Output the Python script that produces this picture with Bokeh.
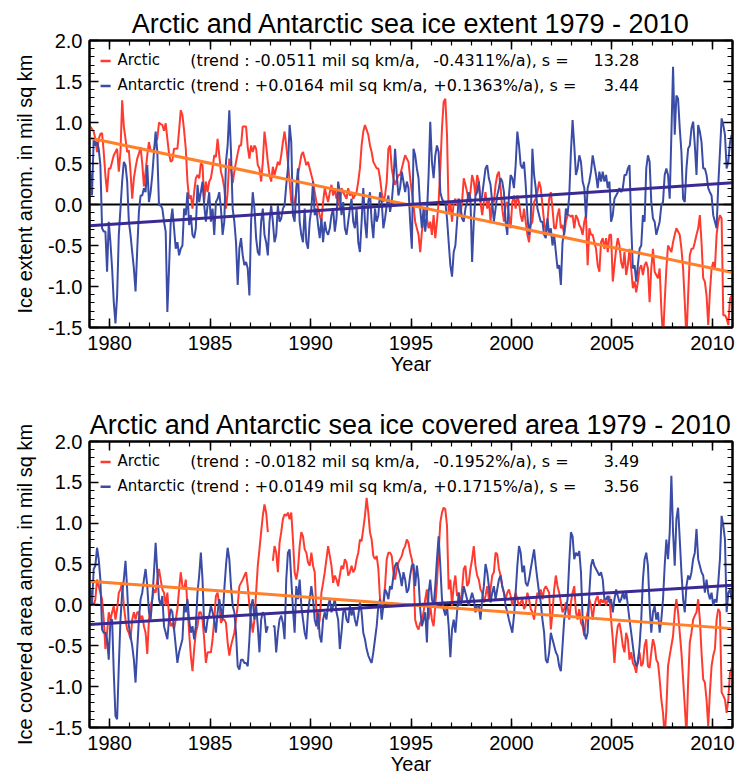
from bokeh.plotting import figure
from bokeh.layouts import column
from bokeh.models import (Range1d, FixedTicker, LinearAxis, PrintfTickFormatter, Span,
                          CustomJSTickFormatter)
from bokeh.core.properties import value
from bokeh.embed import file_html
from bokeh.resources import INLINE

nan = float("nan")
START_YEAR = 1979

# ---------------- data (monthly anomalies, million sq km, Jan 1979 - Dec 2010) -------------
ext_arctic = [
    0.95, 0.92, 0.89, 0.80, 0.64, 0.80, 0.86, 0.87, 0.64, 0.35,
    0.15, 0.44, 0.44, 0.52, 0.60, 0.64, 0.68, 0.40, 0.64, 1.27,
    0.95, 0.80, 0.64, 0.66, 0.40, 0.07, 0.32, 0.45, 0.56, 0.62,
    0.70, 0.50, 0.22, 0.40, 0.60, 0.76, 0.66, 0.66, 0.66, 0.76,
    0.80, 1.00, 0.98, 0.97, 0.90, 0.99, 0.80, 0.62, 0.52, 0.54,
    0.68, 0.68, 0.68, 0.90, 1.15, 1.09, 0.90, 0.68, 0.28, 0.07,
    0.11, -0.05, 0.15, 0.32, 0.36, 0.32, 0.50, 0.48, 0.03, 0.28,
    0.15, 0.28, 0.32, 0.45, 0.60, 0.58, 0.80, 0.60, 0.40, 0.32,
    0.20, -0.05, 0.15, 0.56, 0.44, 0.26, 0.40, 0.52, 0.62, 0.72,
    0.72, 0.95, 0.95, 0.95, 0.70, 0.56,
    0.72, 0.64, 0.72, 0.68, 0.48, 0.44, 0.28, 0.52, 0.89, 0.72,
    0.52, 0.36, 0.28, 0.46, 0.36, 0.44, 0.52, 0.48, 0.60, 0.76,
    0.89, 0.72, 0.52, 0.28, 0.03, -0.01, 0.03, 0.15, 0.36, 0.48,
    0.60, 0.64, 0.56, 0.48, 0.52, 0.44, 0.36, 0.28, 0.15, 0.03,
    -0.05, -0.13, -0.21, 0.03, 0.20, 0.11, 0.03, 0.15, 0.24, 0.11,
    0.20, 0.07, 0.15, -0.05, 0.20, 0.15, 0.11, 0.07, 0.20, 0.11,
    0.15, 0.07, 0.11, 0.15, 0.28, 0.44, 0.72, 0.89, 0.97, 0.91,
    0.85, 0.72, 0.64, 0.52, 0.48, 0.44, 0.44, 0.32, 0.15, 0.03,
    0.11, 0.28, 0.68, 0.72, 0.44, 0.32, 0.24, 0.30, 0.36, 0.36,
    0.44, 0.52, 0.60, 0.56, 0.52, 0.32, 0.15, -0.01,
    -0.21, -0.29, -0.37, -0.58, -0.33, -0.21, -0.05, -0.17, -0.29, -0.21,
    -0.37, -0.13, -0.41, -0.21, 0.03, 0.44, 0.93, 1.25, 1.29, 0.85,
    -0.09, 0.03, -0.21, 0.03, 0.07, -0.01, 0.07, -0.13, 0.03, 0.32,
    0.24, 0.15, 0.03, 0.15, 0.36, 0.28, 0.11, 0.36, 0.28, 0.03,
    -0.13, 0.03, 0.15, -0.05, 0.07, -0.21, 0.03, 0.03, 0.24, 0.36,
    0.40, 0.20, -0.05, -0.21, -0.01, 0.03, -0.13, -0.29, 0.03, 0.11,
    -0.05, 0.11, 0.03, -0.13, -0.21, -0.05, -0.21, -0.37, -0.46, -0.25,
    -0.21, 0.03, 0.07, 0.15, 0.28, 0.20, -0.01, -0.21, -0.33, -0.21,
    0.07, 0.15, -0.05, -0.29, -0.29, -0.13, -0.05, -0.29, -0.25, -0.37,
    -0.21, -0.13,
    -0.13, -0.15, -0.13, -0.29, -0.13, -0.17, -0.25, -0.29, -0.37, -0.21,
    -0.13, -0.74, -0.29, -0.37, -0.37, -0.46, -0.54, -0.74, -0.82, -0.46,
    -0.41, -0.54, -0.41, -0.58, -0.37, -0.37, -0.94, -0.74, -0.54, -0.41,
    -0.50, -0.70, -0.78, -0.58, -0.86, -0.74, -0.54, -0.78, -1.02, -0.94,
    -1.07, -0.94, -0.78, -0.74, -0.86, -0.74, -0.70, -0.78, -1.19, -0.78,
    -0.54, -0.82, -0.86, -0.90, -0.78, -1.27, -1.65, -1.19, -0.78, -0.50,
    -0.54, -0.58, -0.46, -0.37, -0.29, -0.33, -0.37, -0.54, -0.78, -1.19,
    -1.65, -1.11, -0.62, -0.54, -0.54, -0.46, -0.37, -0.29, -0.13, -0.46,
    -0.90, -0.94, -1.11, -1.47, -1.07, -0.78, -0.70, -0.78, -0.37, -0.21,
    -0.13, -0.17, -1.35, -1.35, -1.39, -1.47, -1.15, -1.11,
]

ext_antarctic = [
    0.40, 0.11, 0.80, 0.72, 0.76, 0.68, 0.48, -0.29, -0.33, -0.33,
    -0.82, -0.21, -0.46, -0.78, -1.19, -1.45, -1.11, -0.37, -0.05, 0.28,
    0.52, 0.48, 0.28, -0.21, -0.37, -0.58, -0.78, -1.06, -0.55, -0.09,
    0.11, 0.11, 0.20, 0.15, 0.48, 0.03, 0.15, 0.36, 0.64, 0.89,
    0.64, -0.01, -0.01, -0.05, -0.21, -0.33, -1.31, -0.78, -0.21, -0.05,
    -0.29, -0.54, -0.46, -0.62, -0.54, -0.50, -0.05, -0.13, 0.15, -0.25,
    -0.13, -0.37, -0.41, -0.29, 0.24, 0.03, 0.15, 0.28, -0.01, -0.21,
    -0.01, 0.15, -0.21, -0.05, -0.37, 0.03, 0.07, 0.15, -0.05, -0.37,
    -0.21, 0.52, 0.72, 1.15, 0.64, -0.05, -0.21, -0.46, -0.98, -0.54,
    -0.41, -0.62, -0.74, -0.70, -0.78, -1.11,
    -0.21, 0.15, -0.05, -0.41, -0.58, -0.62, -0.21, -0.05, -0.37, -0.46,
    -0.62, -0.21, -0.01, -0.21, -0.46, -0.37, -0.01, -0.21, -0.17, -0.05,
    -0.01, 0.24, 0.44, 0.97, 0.76, -0.13, -0.21, 0.20, 0.44, -0.21,
    -0.37, -0.46, -0.05, -0.46, -0.54, -0.21, -0.05, 0.28, -0.13, -0.05,
    -0.25, -0.41, -0.17, -0.46, -0.21, -0.33, -0.37, -0.29, -0.13, -0.05,
    -0.33, -0.17, 0.28, 0.15, -0.13, 0.03, -0.29, -0.37, -0.21, -0.05,
    0.07, -0.21, -0.29, -0.05, -0.46, -0.58, -0.21, 0.20, -0.21, -0.41,
    0.03, 0.15, -0.21, -0.41, -0.05, -0.21, -0.13, 0.15, 0.03, -0.29,
    -0.17, -0.01, 0.11, -0.09, 0.03, 0.28, 0.68, 0.36, 0.11, 0.20,
    0.40, 0.28, 0.15, 0.28, 0.20, -0.21, -0.54, 0.68,
    0.60, 0.44, 0.32, -0.05, -0.29, -0.05, -0.33, -0.13, 0.36, 1.01,
    0.52, 0.32, 0.60, 0.72, 0.64, 0.15, 0.07, 0.03, 0.03, -0.17,
    -0.46, -0.74, -0.88, -0.58, -0.50, -0.21, 0.07, -0.01, -0.17, -0.21,
    -0.05, 0.03, 0.15, 0.07, -0.70, -0.21, 0.11, 0.15, 0.28, 0.03,
    0.11, 0.28, 0.44, 0.48, 0.32, 0.24, 0.03, -0.21, -0.05, 0.11,
    0.20, 0.32, 0.28, 0.15, -0.21, -0.37, 0.11, 0.36, 0.32, 0.20,
    0.48, 0.89, 0.72, 0.48, 0.44, 0.52, 0.24, -0.13, -0.37, -0.21,
    0.68, 0.36, 0.20, -0.05, -0.13, -0.21, -0.21, -0.37, -0.41, -0.17,
    -0.37, -0.29, -0.50, -0.37, -0.58, -0.78, -0.74, -0.98, -0.46, -0.33,
    -0.05, -0.13,
    0.11, 0.64, 1.03, 0.72, 0.36, 0.44, 0.60, 0.52, 0.28, 0.20,
    -0.17, 0.20, 0.28, 0.40, 0.60, 0.48, 0.36, 0.20, 0.40, 0.28,
    0.40, 0.28, 0.36, 0.20, 0.28, -0.21, -0.13, 0.07, 0.11, 0.15,
    0.20, 0.15, 0.20, 0.36, 0.36, 0.44, 0.48, -0.25, -0.78, -0.74,
    -0.94, -0.74, -0.54, -0.50, -0.13, -0.21, 0.44, 0.60, 0.52, 0.03,
    -0.17, -0.21, -0.37, -0.29, -0.21, -0.01, 0.03, 0.36, 0.44, 0.36,
    0.07, 0.85, 1.68, 0.85, 1.33, 1.29, 0.93, 0.64, 0.07, 0.03,
    0.44, 0.68, 0.72, 0.93, 1.01, 0.72, 0.36, 0.97, 0.89, 0.76,
    0.44, 0.44, 0.36, 0.20, 0.15, 0.11, -0.13, -0.21, -0.29, 0.24,
    0.64, 1.05, 0.97, 0.85, 0.44, 0.52, 0.76, 0.85,
]

area_arctic = [
    0.19, 0.03, -0.01, 0.07, 0.31, 0.23, 0.15, 0.07, -0.18, -0.54,
    -0.34, -0.09, -0.18, -0.09, -0.01, -0.18, -0.05, 0.15, 0.19, 0.27,
    -0.01, -0.18, -0.30, -0.34, -0.42, -0.18, -0.09, -0.18, -0.09, -0.09,
    -0.18, -0.13, -0.26, -0.34, -0.60, -0.18, -0.01, 0.07, 0.19, 0.15,
    0.31, 0.44, 0.31, 0.19, 0.15, -0.01, 0.15, -0.13, -0.26, -0.22,
    -0.30, -0.18, -0.05, 0.19, 0.40, 0.23, 0.19, 0.31, -0.01, -0.34,
    -0.62, -0.81, -0.54, -0.34, -0.26, -0.09, -0.09, -0.18, -0.42, -0.71,
    -0.58, -0.58, -0.58, -0.42, -0.18, 0.11, 0.15, -0.01, -0.22, -0.18,
    -0.18, -0.22, -0.46, -0.62, -0.50, -0.42, -0.34, -0.18, -0.01, 0.23,
    0.27, 0.31, 0.36, 0.40, 0.23, -0.01,
    -0.18, -0.34, -0.18, 0.15, 0.48, 0.68, 0.89, 1.09, 1.23, 1.13,
    0.89, nan, nan, 0.54, 0.72, 0.64, 0.40, 0.76, 0.89, 1.05,
    1.11, 1.09, 1.13, 1.05, 1.13, 0.80, 0.40, 0.31, 0.44, 0.72,
    0.89, 0.84, 0.68, 0.64, 0.52, 0.48, 0.64, 0.48, 0.40, -0.09,
    -0.30, -0.18, 0.15, 0.27, 0.40, 0.56, 0.72, 0.60, 0.48, 0.27,
    0.36, 0.31, 0.23, 0.36, 0.48, 0.44, 0.56, 0.52, 0.36, 0.40,
    0.48, 0.40, 0.44, 0.56, 0.64, 0.80, 0.78, 0.93, 1.09, 1.31,
    1.13, 0.89, 0.80, 0.60, 0.56, 0.60, 0.44, 0.07, -0.01, 0.03,
    0.23, 0.56, 0.64, 0.64, 0.60, 0.40, 0.31, 0.44, 0.52, 0.56,
    0.60, 0.68, 0.72, 0.80, 0.76, 0.64, 0.56, 0.40,
    -0.18, -0.26, -0.30, -0.22, -0.18, -0.09, 0.07, 0.19, -0.18, -0.01,
    -0.18, -0.26, -0.01, 0.27, 0.64, 1.01, 1.13, 1.19, 1.17, 0.97,
    0.19, 0.31, -0.01, 0.23, 0.36, 0.11, 0.15, -0.01, 0.19, 0.44,
    0.48, 0.23, 0.27, 0.44, 0.56, 0.72, 0.48, 0.36, 0.31, 0.19,
    0.15, 0.03, 0.11, 0.23, 0.07, 0.19, 0.36, 0.40, 0.64, 0.62,
    0.44, 0.36, 0.23, 0.15, 0.07, 0.15, 0.19, 0.11, -0.01, 0.07,
    0.15, 0.07, -0.01, 0.03, 0.07, -0.05, -0.01, 0.15, 0.07, -0.05,
    -0.09, -0.18, -0.01, 0.15, 0.11, 0.19, 0.07, 0.19, 0.23, 0.19,
    0.15, -0.30, -0.09, 0.19, 0.36, 0.23, 0.15, 0.03, -0.09, -0.05,
    0.03, -0.01,
    -0.18, 0.03, 0.15, 0.23, -0.09, -0.18, -0.05, -0.22, -0.26, -0.38,
    -0.18, -0.09, 0.07, -0.01, -0.18, -0.01, 0.07, 0.11, -0.01, 0.07,
    0.03, 0.07, -0.01, 0.07, 0.11, -0.18, -0.42, -0.71, -0.42, -0.26,
    -0.22, -0.34, -0.50, -0.58, -0.34, -0.42, -0.67, -0.58, -0.71, -0.75,
    -0.83, -0.67, -0.58, -0.75, -0.71, -0.50, -0.42, -0.75, -0.77, -0.58,
    -0.42, -0.50, -0.67, -0.71, -0.91, -1.16, -1.32, -1.62, -1.28, -0.75,
    -0.62, -0.50, -0.38, -0.09, 0.07, -0.09, -0.34, -0.58, -0.91, -1.24,
    -1.60, -0.95, -0.46, -0.34, -0.18, -0.13, -0.09, 0.07, -0.18, -0.58,
    -0.91, -0.95, -1.16, -1.48, -1.07, -0.75, -0.62, -0.54, -0.18, -0.05,
    -0.09, -1.07, -1.11, -1.16, -1.32, -1.16, -0.83, -0.77,
]

area_antarctic = [
    0.20, -0.01, 0.44, 0.48, 0.70, 0.56, 0.31, -0.30, -0.34, -0.34,
    -0.42, -0.67, -0.18, -0.18, -0.83, -1.36, -1.40, -0.75, -0.18, 0.15,
    0.31, 0.54, 0.19, -0.26, -0.38, -0.50, -0.67, -0.95, -0.54, -0.18,
    0.07, 0.15, 0.31, 0.44, 0.23, -0.09, -0.18, 0.07, 0.40, 0.76,
    0.40, 0.07, -0.01, 0.11, -0.26, -0.34, -0.42, -0.18, -0.05, -0.09,
    -0.30, -0.50, -0.71, -0.58, -0.50, -0.42, -0.01, -0.09, 0.07, -0.18,
    -0.34, -0.26, -0.42, -0.26, 0.15, 0.36, 0.64, 0.31, -0.26, -0.34,
    -0.18, -0.13, -0.01, -0.09, -0.18, -0.34, -0.09, 0.07, -0.05, -0.18,
    0.19, 0.48, 0.70, 0.56, 0.23, -0.01, -0.09, -0.34, -0.75, -0.79,
    -0.67, -0.67, -0.71, -0.71, -0.75, -0.42,
    -0.01, 0.07, -0.18, -0.01, -0.26, -0.58, -0.18, -0.09, -0.13, -0.34,
    -0.26, nan, nan, -0.26, -0.26, -0.58, -0.34, -0.18, -0.13, -0.22,
    -0.42, 0.31, 0.64, 0.68, 0.31, -0.05, -0.34, 0.23, 0.07, 0.31,
    -0.01, -0.18, -0.34, -0.42, -0.09, 0.07, 0.23, 0.07, -0.18, -0.26,
    -0.09, -0.38, -0.46, -0.18, -0.09, -0.18, -0.01, 0.07, -0.09, -0.01,
    0.07, -0.09, -0.18, -0.54, -0.34, -0.09, -0.05, -0.18, -0.22, -0.01,
    -0.13, -0.05, -0.18, -0.26, -0.13, 0.03, -0.09, -0.34, -0.42, -0.54,
    -0.62, -0.67, -0.71, -0.58, -0.42, -0.26, -0.01, 0.07, -0.18, -0.01,
    0.19, 0.15, 0.07, 0.23, 0.19, 0.36, 0.48, 0.52, 0.44, 0.36,
    0.23, 0.40, 0.31, 0.15, 0.19, 0.36, 0.48, 0.50,
    0.23, 0.48, 0.31, -0.05, -0.26, -0.18, -0.09, -0.46, 0.15, 0.31,
    0.07, -0.01, 0.23, 0.56, 0.84, 0.48, 0.07, -0.05, -0.13, -0.01,
    -0.26, -0.64, -0.30, -0.18, -0.34, -0.09, 0.15, -0.01, 0.07, 0.23,
    0.15, 0.07, -0.01, 0.07, 0.15, 0.07, -0.09, -0.01, -0.01, -0.18,
    0.07, 0.23, 0.50, 0.40, 0.23, 0.03, 0.15, 0.23, 0.07, 0.19,
    0.31, 0.36, 0.23, 0.15, -0.01, -0.09, -0.18, -0.26, -0.34, -0.13,
    0.15, 0.48, 0.72, 0.64, 0.40, 0.48, 0.27, 0.23, 0.31, 0.44,
    0.56, 0.68, 0.48, 0.31, 0.15, 0.03, -0.18, -0.34, -0.67, -0.71,
    -0.58, -0.34, -0.42, -0.50, -0.58, -0.62, -0.75, -0.81, -0.50, -0.18,
    -0.05, 0.07,
    0.52, 0.89, 0.84, 0.56, 0.64, 0.60, 0.66, 0.40, -0.18, -0.34,
    -0.42, -0.34, 0.15, 0.48, 0.56, 0.48, 0.44, 0.40, 0.36, 0.40,
    0.31, 0.07, 0.07, 0.11, 0.03, 0.07, -0.09, 0.07, 0.19, 0.11,
    0.03, 0.07, 0.15, 0.07, 0.17, -0.01, -0.18, -0.34, -0.50, -0.67,
    -0.75, -0.71, -0.50, -0.18, 0.31, 0.56, 0.64, 0.48, -0.01, -0.34,
    -0.09, -0.01, -0.18, -0.09, -0.34, -0.18, 0.07, 0.48, 0.80, 0.56,
    0.89, 1.58, 0.89, 0.48, 1.05, 1.19, 0.80, 0.40, 0.07, -0.09,
    0.23, 0.36, 0.31, 0.40, 0.56, 0.64, 0.93, 0.56, 0.48, 0.40,
    0.36, 0.15, 0.31, 0.15, 0.07, 0.15, -0.01, 0.07, 0.03, 0.27,
    0.56, 1.09, 0.97, 0.80, -0.09, 0.15, 0.19, 0.07,
]

# linear trend lines (values at the two ends of the time axis)
trend_years = [1979.0, 2011.0]
ext_arctic_trend = [0.81, -0.83]
ext_antarctic_trend = [-0.26, 0.265]
area_arctic_trend = [0.29, -0.29]
area_antarctic_trend = [-0.24, 0.24]

year_ticks = [1980, 1985, 1990, 1995, 2000, 2005, 2010]
year_minor = list(range(1979, 2012))
y_ticks = [-1.5, -1.0, -0.5, 0.0, 0.5, 1.0, 1.5, 2.0]
y_minor = [round(-1.5 + 0.1 * i, 1) for i in range(36)]

legend_ext = [
    ("Arctic", "(trend : -0.0511 mil sq km/a,", "-0.4311%/a), s =", "13.28"),
    ("Antarctic", "(trend : +0.0164 mil sq km/a,", "+0.1363%/a), s =", "3.44"),
]
legend_area = [
    ("Arctic", "(trend : -0.0182 mil sq km/a,", "-0.1952%/a), s =", "3.49"),
    ("Antarctic", "(trend : +0.0149 mil sq km/a,", "+0.1715%/a), s =", "3.56"),
]

RED = "#ff3b30"
BLUE = "#3b4ca6"
ORANGE = "#ff7f2a"
PURPLE = "#3a2a94"
AXFONT = "Liberation Sans"
LEGFONT = "DejaVu Sans"

months = [START_YEAR + (i + 0.5) / 12.0 for i in range(len(ext_arctic))]


def style_axis(ax, labels=True, ticker=None, fmt=None):
    ax.ticker = ticker
    ax.axis_line_width = 2
    ax.axis_line_color = "black"
    ax.major_tick_in = 9
    ax.major_tick_out = 0
    ax.minor_tick_in = 5
    ax.minor_tick_out = 0
    ax.major_tick_line_width = 1.5
    ax.minor_tick_line_width = 1.2
    ax.major_tick_line_color = "black"
    ax.minor_tick_line_color = "black"
    ax.major_label_text_font = AXFONT
    ax.major_label_text_color = "black"
    ax.axis_label_text_font = AXFONT
    ax.axis_label_text_font_size = "20px"
    ax.axis_label_text_font_style = "normal"
    ax.axis_label_text_color = "black"
    if labels:
        ax.formatter = PrintfTickFormatter(format=fmt)
        ax.major_label_text_font_size = "20px"
    else:
        ax.formatter = CustomJSTickFormatter(code="return ''")
        ax.major_label_text_font_size = "2px"
        ax.major_label_standoff = 0


def make_panel(title, ylabel, arctic, antarctic, tr_arc, tr_ant, legend, top, bottom):
    p = figure(width=739, height=391, x_range=Range1d(1979, 2011), y_range=Range1d(-1.5, 2.0),
               output_backend="svg", toolbar_location=None,
               min_border_left=89, min_border_right=7, min_border_top=top, min_border_bottom=bottom)
    p.xgrid.visible = False
    p.ygrid.visible = False
    p.outline_line_color = "black"
    p.outline_line_width = 2
    p.background_fill_color = "white"
    p.border_fill_color = "white"

    p.title.text = title
    p.title.align = "center"
    p.title.text_font = AXFONT
    p.title.text_font_size = "27px"
    p.title.text_font_style = "normal"
    p.title.text_color = "black"
    p.title.standoff = 4

    xt = FixedTicker(ticks=year_ticks, minor_ticks=year_minor)
    yt = FixedTicker(ticks=y_ticks, minor_ticks=y_minor)
    style_axis(p.xaxis[0], True, xt, "%d")
    p.xaxis[0].axis_label = "Year"
    p.xaxis[0].major_label_standoff = 8
    p.xaxis[0].axis_label_standoff = 0
    style_axis(p.yaxis[0], True, yt, "%.1f")
    p.yaxis[0].axis_label = ylabel
    p.yaxis[0].major_label_standoff = 7
    p.yaxis[0].axis_label_standoff = 9

    top_ax = LinearAxis()
    style_axis(top_ax, False, FixedTicker(ticks=year_ticks, minor_ticks=year_minor))
    p.add_layout(top_ax, "above")
    right_ax = LinearAxis()
    style_axis(right_ax, False, FixedTicker(ticks=y_ticks, minor_ticks=y_minor))
    p.add_layout(right_ax, "right")

    p.add_layout(Span(location=0, dimension="width", line_color="black", line_width=2, level="underlay"))

    p.line(months, arctic, line_color=RED, line_width=2)
    p.line(months, antarctic, line_color=BLUE, line_width=2)
    p.line(trend_years, tr_arc, line_color=ORANGE, line_width=3)
    p.line(trend_years, tr_ant, line_color=PURPLE, line_width=3)

    rows_y = [1.76, 1.455]
    cols = [RED, BLUE]
    for (name, part1, part2, sval), yy, c in zip(legend, rows_y, cols):
        p.line([1979.55, 1980.05], [yy - 0.01, yy - 0.01], line_color=c, line_width=2.5)
        p.text(x=[1980.39], y=[yy], text=[name],
               text_font=value(LEGFONT), text_font_size=value("15px"),
               text_baseline="middle", text_align="left", text_color="black")
        p.text(x=[1984.02, 1996.11], y=[yy] * 2, text=[part1, part2],
               text_font=value(LEGFONT), text_font_size=value("16px"),
               text_baseline="middle", text_align="left", text_color="black")
        p.text(x=[2006.36], y=[yy], text=[sval],
               text_font=value(LEGFONT), text_font_size=value("16px"),
               text_baseline="middle", text_align="right", text_color="black")
    return p


p1 = make_panel("Arctic and Antarctic sea ice extent 1979 - 2010", "Ice extent anom. in mil sq km",
                ext_arctic, ext_antarctic, ext_arctic_trend, ext_antarctic_trend, legend_ext, 40, 64)
p2 = make_panel("Arctic and Antarctic sea ice covered area 1979 - 2010", "Ice covered area anom. in mil sq km",
                area_arctic, area_antarctic, area_arctic_trend, area_antarctic_trend, legend_area, 50, 55)

layout = column(p1, p2, spacing=0)
open("out.html", "w").write(file_html(layout, INLINE))
